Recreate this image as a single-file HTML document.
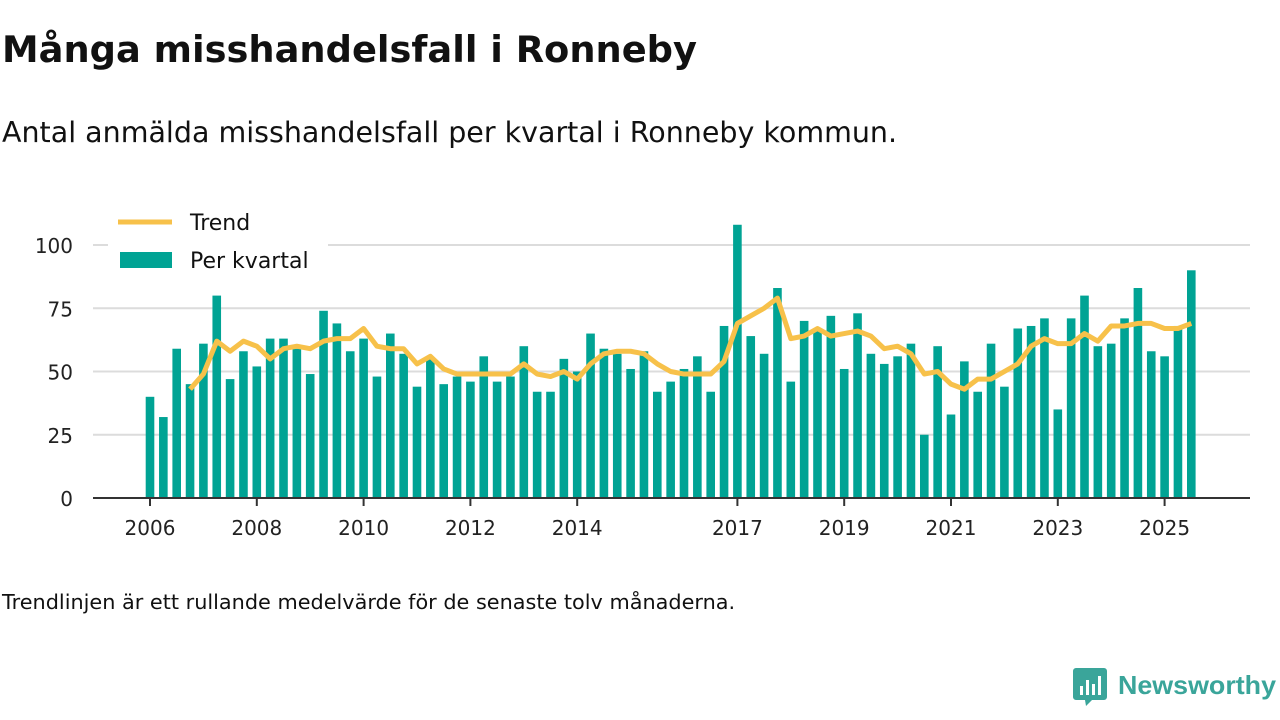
<!DOCTYPE html>
<html><head><meta charset="utf-8"><style>
body{margin:0;background:#fff;font-family:"Liberation Sans",sans-serif;}
#wrap{position:relative;width:1280px;height:720px;overflow:hidden;}
svg text{font-family:"DejaVu Sans","Liberation Sans",sans-serif;}
</style></head><body>
<div id="wrap">
<svg id="chart" width="1280" height="720">
<text x="2" y="62" font-size="36.8" font-weight="bold" fill="#111">Många misshandelsfall i Ronneby</text>
<text x="2" y="142" font-size="28.5" fill="#111">Antal anmälda misshandelsfall per kvartal i Ronneby kommun.</text>
<text x="2" y="609" font-size="20.8" fill="#111">Trendlinjen är ett rullande medelvärde för de senaste tolv månaderna.</text>
<g id="grid"></g><g id="bars"></g><g id="trend"></g><g id="axes"></g>
<g>
<rect x="108" y="205" width="220" height="70" fill="#fff"/>
<line x1="118" y1="222" x2="172" y2="222" stroke="#f7c14a" stroke-width="5"/>
<text x="190" y="230" font-size="22" fill="#111">Trend</text>
<rect x="120" y="252" width="52" height="16" fill="#00a394"/>
<text x="190" y="268" font-size="22" fill="#111">Per kvartal</text>
</g>
<g>
<path d="M1076 668 h28 a3 3 0 0 1 3 3 v26 a3 3 0 0 1 -3 3 h-12 l-6 6 l-1 -6 h-9 a3 3 0 0 1 -3 -3 v-26 a3 3 0 0 1 3 -3z" fill="#3aa59a"/>
<rect x="1080" y="686" width="3" height="9" fill="#fff"/><rect x="1086" y="680" width="3" height="15" fill="#fff"/><rect x="1092" y="684" width="3" height="11" fill="#fff"/><rect x="1098" y="676" width="3" height="19" fill="#fff"/>
<text x="1118" y="694" font-size="26" font-weight="bold" fill="#3aa59a" style="font-family:'Liberation Sans',sans-serif" textLength="158" lengthAdjust="spacingAndGlyphs">Newsworthy</text>
</g>
</svg>
</div>
<script>
const values=[40,32,59,45,61,80,47,58,52,63,63,59,49,74,69,58,63,48,65,57,44,55,45,48,46,56,46,48,60,42,42,55,50,65,59,57,51,58,42,46,51,56,42,68,108,64,57,83,46,70,66,72,51,73,57,53,56,61,25,60,33,54,42,61,44,67,68,71,35,71,80,60,61,71,83,58,56,68,90];
const trend=[null,null,null,43,49,62,58,62,60,55,59,60,59,62,63,63,67,60,59,59,53,56,51,49,49,49,49,49,53,49,48,50,47,53,57,58,58,57,53,50,49,49,49,54,69,72,75,79,63,64,67,64,65,66,64,59,60,57,49,50,45,43,47,47,50,53,60,63,61,61,65,62,68,68,69,69,67,67,69];
const yTicks=[0,25,50,75,100];
const xTickLabels=["2006","2008","2010","2012","2014","2017","2019","2021","2023","2025"];
const xTickIndex=[0,8,16,24,32,44,52,60,68,76];
const NS="http://www.w3.org/2000/svg";
const y=v=>498-v*2.53;
const x=i=>150+i*13.35;
function mk(tag,attrs,parent){const e=document.createElementNS(NS,tag);for(const k in attrs)e.setAttribute(k,attrs[k]);document.getElementById(parent).appendChild(e);return e;}
yTicks.forEach(t=>{
  if(t>0){const l=mk('line',{x1:93,x2:1250,y1:y(t),y2:y(t),stroke:'#dcdcdc','stroke-width':2},'grid');
  
  }
  const tx=mk('text',{x:73,y:y(t)+8,'font-size':20,fill:'#222','text-anchor':'end'},'axes');tx.textContent=t;
  
  
});
values.forEach((v,i)=>{
  const r=mk('rect',{x:x(i)-4.3,y:y(v),width:8.6,height:v*2.53,fill:'#00a394'},'bars');
  
  
});
let d='';trend.forEach((v,i)=>{if(v!=null)d+=(d?'L':'M')+x(i)+' '+y(v);});
const p=mk('path',{d:d,fill:'none',stroke:'#f7c14a','stroke-width':5,'stroke-linejoin':'round'},'trend');


const ax=mk('line',{x1:93,x2:1250,y1:498,y2:498,stroke:'#333','stroke-width':2},'axes');


xTickIndex.forEach((idx,j)=>{
  const tk=mk('line',{x1:x(idx),x2:x(idx),y1:498,y2:506,stroke:'#333','stroke-width':2},'axes');
  
  
  const tx=mk('text',{x:x(idx),y:535,'font-size':20,fill:'#222','text-anchor':'middle'},'axes');tx.textContent=xTickLabels[j];
  
  
});
</script>
</body></html>
